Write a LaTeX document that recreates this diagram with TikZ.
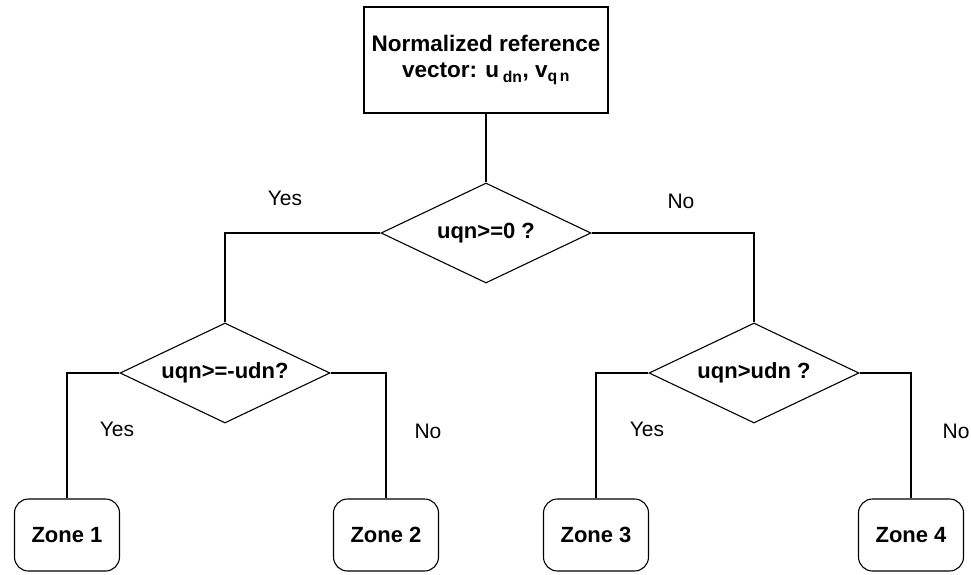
\documentclass[tikz,border=0pt]{standalone}
\usepackage{fontspec}
\setmainfont{Liberation Sans}
\usetikzlibrary{shapes.geometric,positioning}

\begin{document}
\begin{tikzpicture}[
    x=1pt, y=-1pt,
    line width=1.1pt,
    every node/.style={font=\fontsize{21}{24}\selectfont},
    start/.style={draw, rectangle, minimum width=244pt, minimum height=106pt, align=center, font=\fontsize{22.5}{26}\selectfont\bfseries},
    decision/.style={draw, diamond, aspect=2.1, inner sep=0pt, minimum width=210pt, minimum height=100pt, font=\fontsize{22}{24}\selectfont\bfseries},
    zone/.style={draw, rectangle, rounded corners=14pt, minimum width=105pt, minimum height=72pt, font=\fontsize{22}{24}\selectfont\bfseries},
    answer/.style={inner sep=0pt}
]
    \useasboundingbox (0,0) rectangle (971,574);

    % top box and first test
    \node[start] (ref) at (486,60) {Normalized reference\\vector: u\,\textsubscript{dn}, v\textsubscript{q\,n}};
    \node[decision] (test0) at (486,233) {uqn>=0 ?};

    % second level tests
    \node[decision] (testL) at (225,373) {uqn>=-udn?};
    \node[decision] (testR) at (754,373) {uqn>udn ?};

    % zones
    \node[zone] (zone1) at (67,535) {Zone 1};
    \node[zone] (zone2) at (386,535) {Zone 2};
    \node[zone] (zone3) at (596,535) {Zone 3};
    \node[zone] (zone4) at (911,535) {Zone 4};

    % connectors
    \draw (ref.south) -- (test0.north);
    \draw (test0.west) -| (testL.north);
    \draw (test0.east) -| (testR.north);
    \draw (testL.west) -| (zone1.north);
    \draw (testL.east) -| (zone2.north);
    \draw (testR.west) -| (zone3.north);
    \draw (testR.east) -| (zone4.north);

    % branch labels
    \node[answer] (yes0) at (285,198) {Yes};
    \node[answer] (no0) at (681,201) {No};
    \node[answer] (yesL) at (117,429) {Yes};
    \node[answer] (noL) at (428,431) {No};
    \node[answer] (yesR) at (647,429) {Yes};
    \node[answer] (noR) at (956,431) {No};
\end{tikzpicture}
\end{document}
